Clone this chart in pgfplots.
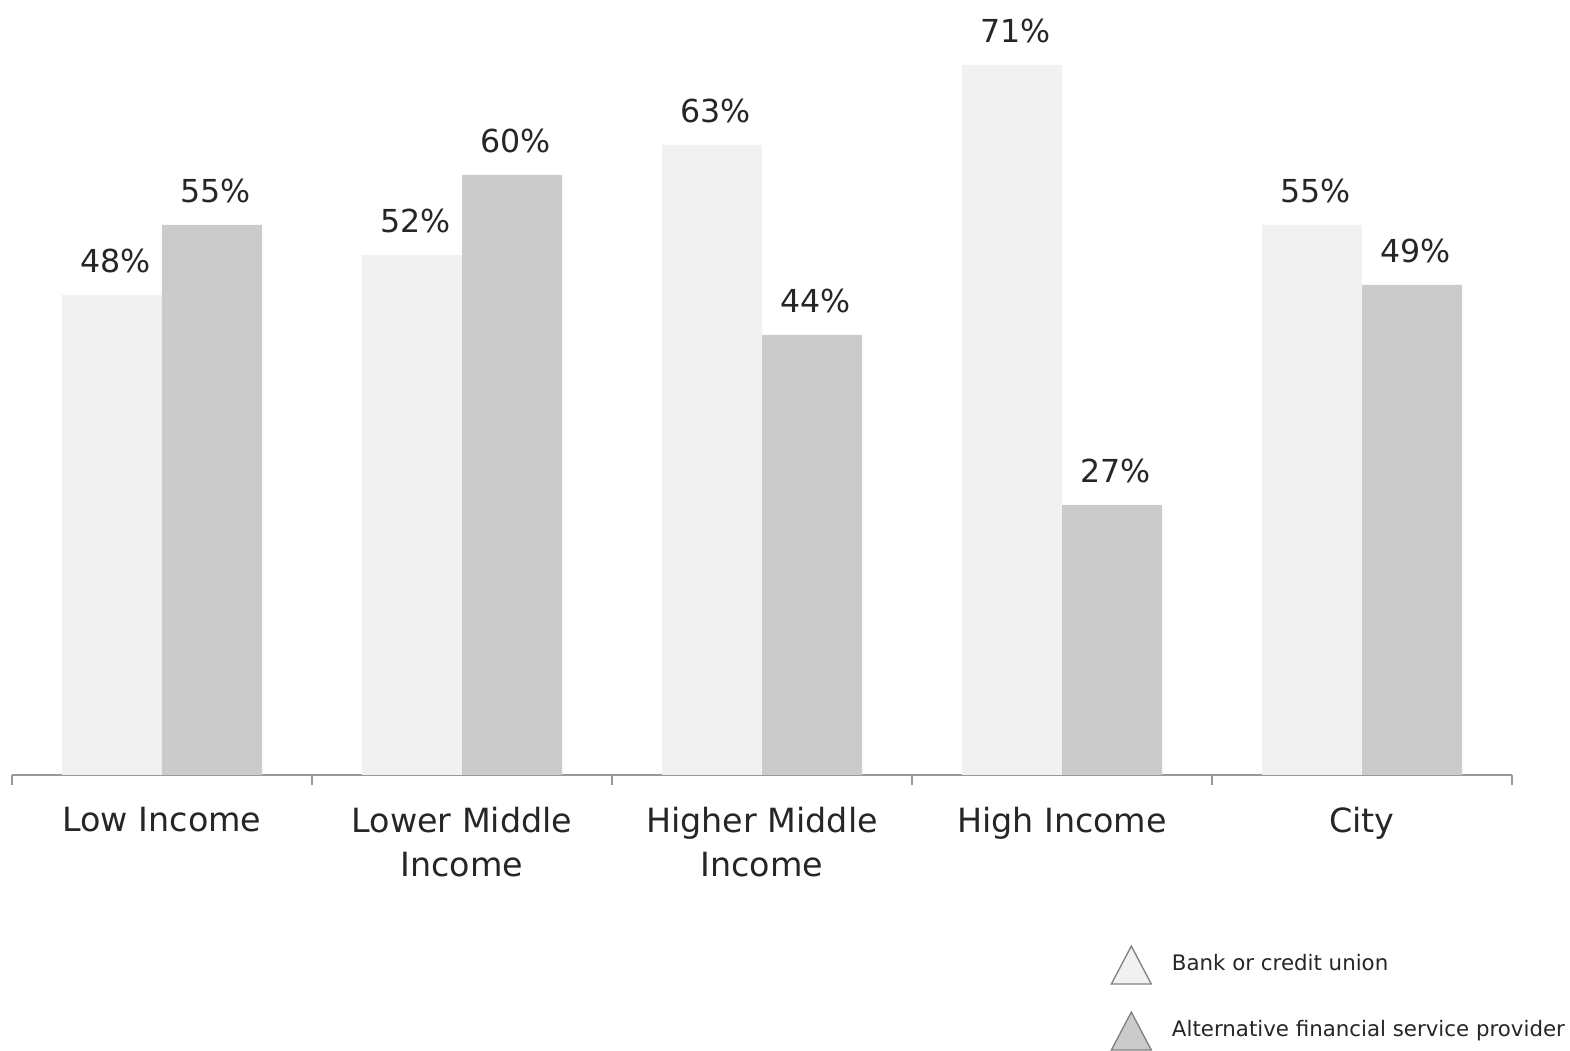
\documentclass[border=0pt]{standalone}
\usepackage{pgfplots}
\pgfplotsset{compat=1.18}
\usepackage{fontspec}
\setmainfont{DejaVu Sans}
\definecolor{lightbar}{HTML}{F1F1F1}
\definecolor{darkbar}{HTML}{CBCBCB}
\definecolor{txt}{HTML}{262626}
\begin{document}
\begin{tikzpicture}
\useasboundingbox (-3.6pt,-82.8pt) rectangle (467.4pt,232.5pt);
\begin{axis}[
 at={(0pt,0pt)}, anchor=south west,
 scale only axis, width=450pt, height=232.5pt,
 /pgf/number format/assume math mode=true,
 ybar=0pt, bar width=30pt,
 xmin=-0.5, xmax=4.5, ymin=0, ymax=77.5,
 axis x line=bottom, axis y line=none,
 axis line style={-, draw=gray!80, line width=0.5pt},
 xtick={-0.5,0.5,1.5,2.5,3.5,4.5},
 xticklabels={},
 tick align=outside, major tick length=3pt,
 xtick style={draw=gray!80, line width=0.5pt},
 extra x ticks={0,1,2,3,4},
 extra x tick labels={Low Income, Lower Middle\\Income, Higher Middle\\Income, High Income, City},
 extra x tick style={major tick length=0pt, xtick style={draw=none}, xticklabel style={align=center, font=\fontsize{10}{13.2}\selectfont, text=txt, anchor=north, yshift=-6pt}},
 nodes near coords={\pgfmathprintnumber{\pgfplotspointmeta}\%},
 every node near coord/.append style={font=\fontsize{9.5}{11}\selectfont, text=txt, yshift=3pt, xshift=1pt},
 legend style={at={(0.732,-0.219)}, anchor=north west, draw=none, fill=none, inner sep=0pt, row sep=8pt, /tikz/column sep=4pt, font=\fontsize{6.4}{7.5}\selectfont, text=txt, cells={anchor=west}},
]
\addplot[fill=lightbar, draw=none, legend image code/.code={\draw[fill=lightbar, draw=gray] (0pt,-5.7pt) -- (12pt,-5.7pt) -- (6pt,5.7pt) -- cycle;}]
 coordinates {(0,48) (1,52) (2,63) (3,71) (4,55)};
\addplot[fill=darkbar, draw=none, legend image code/.code={\draw[fill=darkbar, draw=gray] (0pt,-5.7pt) -- (12pt,-5.7pt) -- (6pt,5.7pt) -- cycle;}]
 coordinates {(0,55) (1,60) (2,44) (3,27) (4,49)};
\legend{Bank or credit union, Alternative financial service provider}
\end{axis}
\end{tikzpicture}
\end{document}
